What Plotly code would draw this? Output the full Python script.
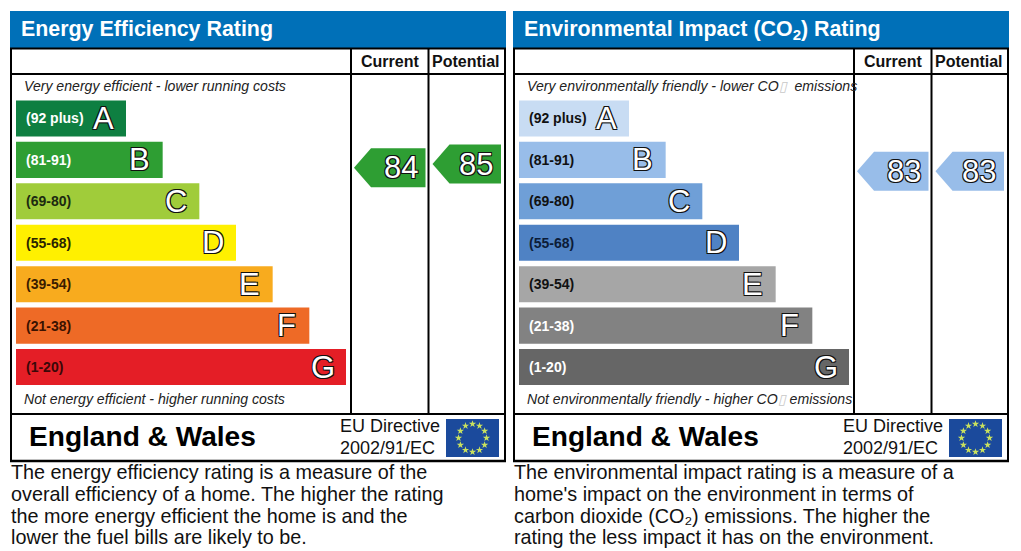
"""EPC style energy and environmental rating panels."""

import numpy as np
import plotly.graph_objects as go

WIDTH = 1021
HEIGHT = 551

bands = ["A", "B", "C", "D", "E", "F", "G"]
band_ranges = ["(92 plus)", "(81-91)", "(69-80)", "(55-68)", "(39-54)", "(21-38)", "(1-20)"]
bar_lengths = [3, 4, 5, 6, 7, 8, 9]

energy_colors = ["#0e7f41", "#2e9e33", "#a0cc3a", "#fff000", "#f8ab1e", "#ee6a26", "#e41e26"]
energy_label_colors = ["#ffffff", "#ffffff", "#1c2a10", "#2a2400", "#3a1c00", "#3a1200", "#3a0808"]
impact_colors = ["#c8dcf3", "#98bde9", "#6f9fd7", "#4f82c4", "#a6a6a6", "#828282", "#666666"]
impact_label_colors = ["#111111", "#111111", "#111111", "#0c1c38", "#111111", "#ffffff", "#ffffff"]

energy_scores = [84, 85]
impact_scores = [83, 83]
score_color_energy = "#2e9e33"
score_color_impact = "#98bde9"

column_names = ["Current", "Potential"]

energy_title = "Energy Efficiency Rating"
impact_title = "Environmental Impact (CO<sub>2</sub>) Rating"
box = '<span style="color:#c8c8c8">▯</span>'
energy_top = "Very energy efficient - lower running costs"
energy_bottom = "Not energy efficient - higher running costs"
impact_top = f"Very environmentally friendly - lower CO{box}  emissions"
impact_bottom = f"Not environmentally friendly - higher CO{box} emissions"
energy_text = [
    "The energy efficiency rating is a measure of the",
    "overall efficiency of a home. The higher the rating",
    "the more energy efficient the home is and the",
    "lower the fuel bills are likely to be.",
]
impact_text = [
    "The environmental impact rating is a measure of a",
    "home's impact on the environment in terms of",
    "carbon dioxide (CO₂) emissions. The higher the",
    "rating the less impact it has on the environment.",
]

SANS = "Liberation Sans, Arial, sans-serif"
OUTLINE = "-1px -1px 0 #111, 1px -1px 0 #111, -1px 1px 0 #111, 1px 1px 0 #111"
PANEL_STEP = 503
PX_PER_SCORE = 3.6
ARROW_HALF = 19.5 / PX_PER_SCORE


def _label(x, y, text, size, color="#111111", anchor="left", bold=False, italic=False, **kwargs):
    return dict(
        x=x,
        y=y,
        xref=kwargs.pop("xref", "x"),
        yref=kwargs.pop("yref", "y"),
        text=text,
        showarrow=False,
        xanchor=anchor,
        yanchor="middle",
        borderpad=0,
        font=dict(
            family=SANS,
            size=size,
            color=color,
            weight="bold" if bold else "normal",
            style="italic" if italic else "normal",
            shadow=kwargs.pop("shadow", "none"),
        ),
        **kwargs,
    )


def _line(x0, y0, x1, y1, width=2):
    return dict(type="line", xref="x", yref="y", x0=x0, y0=y0, x1=x1, y1=y1,
                line=dict(color="#000000", width=width))


def _panel(fig, dx, xaxis, title, title_y, colors, label_colors, scores, score_color, top, bottom, text):
    shapes = [
        dict(type="rect", xref="x", yref="y", x0=10 + dx, y0=11, x1=506 + dx, y1=48,
             fillcolor="#0070b8", line_width=0, layer="below"),
        dict(type="rect", xref="x", yref="y", x0=446 + dx, y0=419, x1=499 + dx, y1=457,
             fillcolor="#1b4a9c", line_width=0, layer="below"),
        _line(11 + dx, 48, 11 + dx, 461),
        _line(505 + dx, 48, 505 + dx, 461),
        _line(10 + dx, 48.5, 506 + dx, 48.5),
        _line(11 + dx, 74, 505 + dx, 74),
        _line(10 + dx, 414, 506 + dx, 414),
        _line(10 + dx, 461, 506 + dx, 461, 2.5),
        _line(351 + dx, 48, 351 + dx, 414),
        _line(428.5 + dx, 48, 428.5 + dx, 414),
    ]

    fig.add_trace(go.Bar(
        x=bar_lengths,
        y=bands,
        orientation="h",
        marker=dict(color=colors, line_width=0),
        xaxis=xaxis,
        yaxis="y2",
        hoverinfo="skip",
    ))

    angles = np.linspace(0, 2 * np.pi, 12, endpoint=False)
    fig.add_trace(go.Scatter(
        x=472.5 + dx + 14 * np.cos(angles),
        y=438 + 14 * np.sin(angles),
        mode="markers",
        marker=dict(symbol="star", size=5.5, color="#c9e15e"),
        xaxis="x",
        yaxis="y",
        hoverinfo="skip",
    ))

    notes = [
        _label(20 + dx, title_y, title, 21.4, "#ffffff", bold=True),
        _label(389.5 + dx, 61, column_names[0], 16, anchor="center", bold=True),
        _label(466 + dx, 61, column_names[1], 16, anchor="center", bold=True),
        _label(23 + dx, 86, top, 14.1, "#222222", italic=True),
        _label(23 + dx, 398.5, bottom, 14.1, "#222222", italic=True),
        _label(28 + dx, 436, "England &amp; Wales", 28.1, "#000000", bold=True),
        _label(339 + dx, 426, "EU Directive", 18),
        _label(339 + dx, 448, "2002/91/EC", 18),
    ]
    for row, y in enumerate((472, 494, 516, 537)):
        notes.append(_label(10 + dx, y, text[row], 19.8, "#111111"))

    for band, band_range, length, label_color in zip(bands, band_ranges, bar_lengths, label_colors):
        notes.append(_label(0, band, band_range, 14, label_color, bold=True, xref=xaxis, yref="y2", xshift=9))
        notes.append(_label(length, band, band, 31, "#ffffff", anchor="center", xref=xaxis, yref="y2",
                            xshift=-23, shadow=OUTLINE))

    # score arrows sit on the rating scale, so the height comes from the score axis
    for (tip, shoulder, right), score in zip(((354, 371, 425.5), (432.5, 449.5, 501)), scores):
        fig.add_trace(go.Scatter(
            x=[tip + dx, shoulder + dx, right + dx, right + dx, shoulder + dx, tip + dx],
            y=[score, score + ARROW_HALF, score + ARROW_HALF, score - ARROW_HALF, score - ARROW_HALF, score],
            mode="lines",
            fill="toself",
            fillcolor=score_color,
            line_width=0,
            xaxis="x",
            yaxis="y3",
            hoverinfo="skip",
        ))
        notes.append(_label(right + dx - 7, score, str(score), 31, "#ffffff", anchor="right", yref="y3",
                            shadow=OUTLINE))
    return shapes, notes


fig = go.Figure()
energy_shapes, energy_notes = _panel(
    fig, 0, "x2", energy_title, 28.5, energy_colors, energy_label_colors,
    energy_scores, score_color_energy, energy_top, energy_bottom, energy_text,
)
impact_shapes, impact_notes = _panel(
    fig, PANEL_STEP, "x3", impact_title, 30, impact_colors, impact_label_colors,
    impact_scores, score_color_impact, impact_top, impact_bottom, impact_text,
)

hidden = dict(visible=False, showgrid=False, zeroline=False)
bar_top = 97.75
bar_bottom = 387.75
fig.update_layout(
    width=WIDTH,
    height=HEIGHT,
    margin=dict(l=0, r=0, t=0, b=0),
    paper_bgcolor="#ffffff",
    plot_bgcolor="rgba(0,0,0,0)",
    showlegend=False,
    bargap=0.13,
    shapes=energy_shapes + impact_shapes,
    annotations=energy_notes + impact_notes,
    xaxis=dict(range=[0, WIDTH], domain=[0, 1], **hidden),
    yaxis=dict(range=[HEIGHT, 0], domain=[0, 1], **hidden),
    xaxis2=dict(range=[0, 9], domain=[16 / WIDTH, 346 / WIDTH], anchor="y2", **hidden),
    xaxis3=dict(range=[0, 9], domain=[519 / WIDTH, 849 / WIDTH], anchor="y2", **hidden),
    yaxis2=dict(
        type="category",
        categoryorder="array",
        categoryarray=bands,
        autorange="reversed",
        domain=[1 - bar_bottom / HEIGHT, 1 - bar_top / HEIGHT],
        anchor="x2",
        **hidden,
    ),
    yaxis3=dict(
        range=[84 - (HEIGHT - 167.7) / PX_PER_SCORE, 84 + 167.7 / PX_PER_SCORE],
        domain=[0, 1],
        overlaying="y",
        anchor="x",
        **hidden,
    ),
)

fig.write_html(
    "out.html",
    config={"displayModeBar": False},
    post_script="document.body.style.margin='0';",
)
